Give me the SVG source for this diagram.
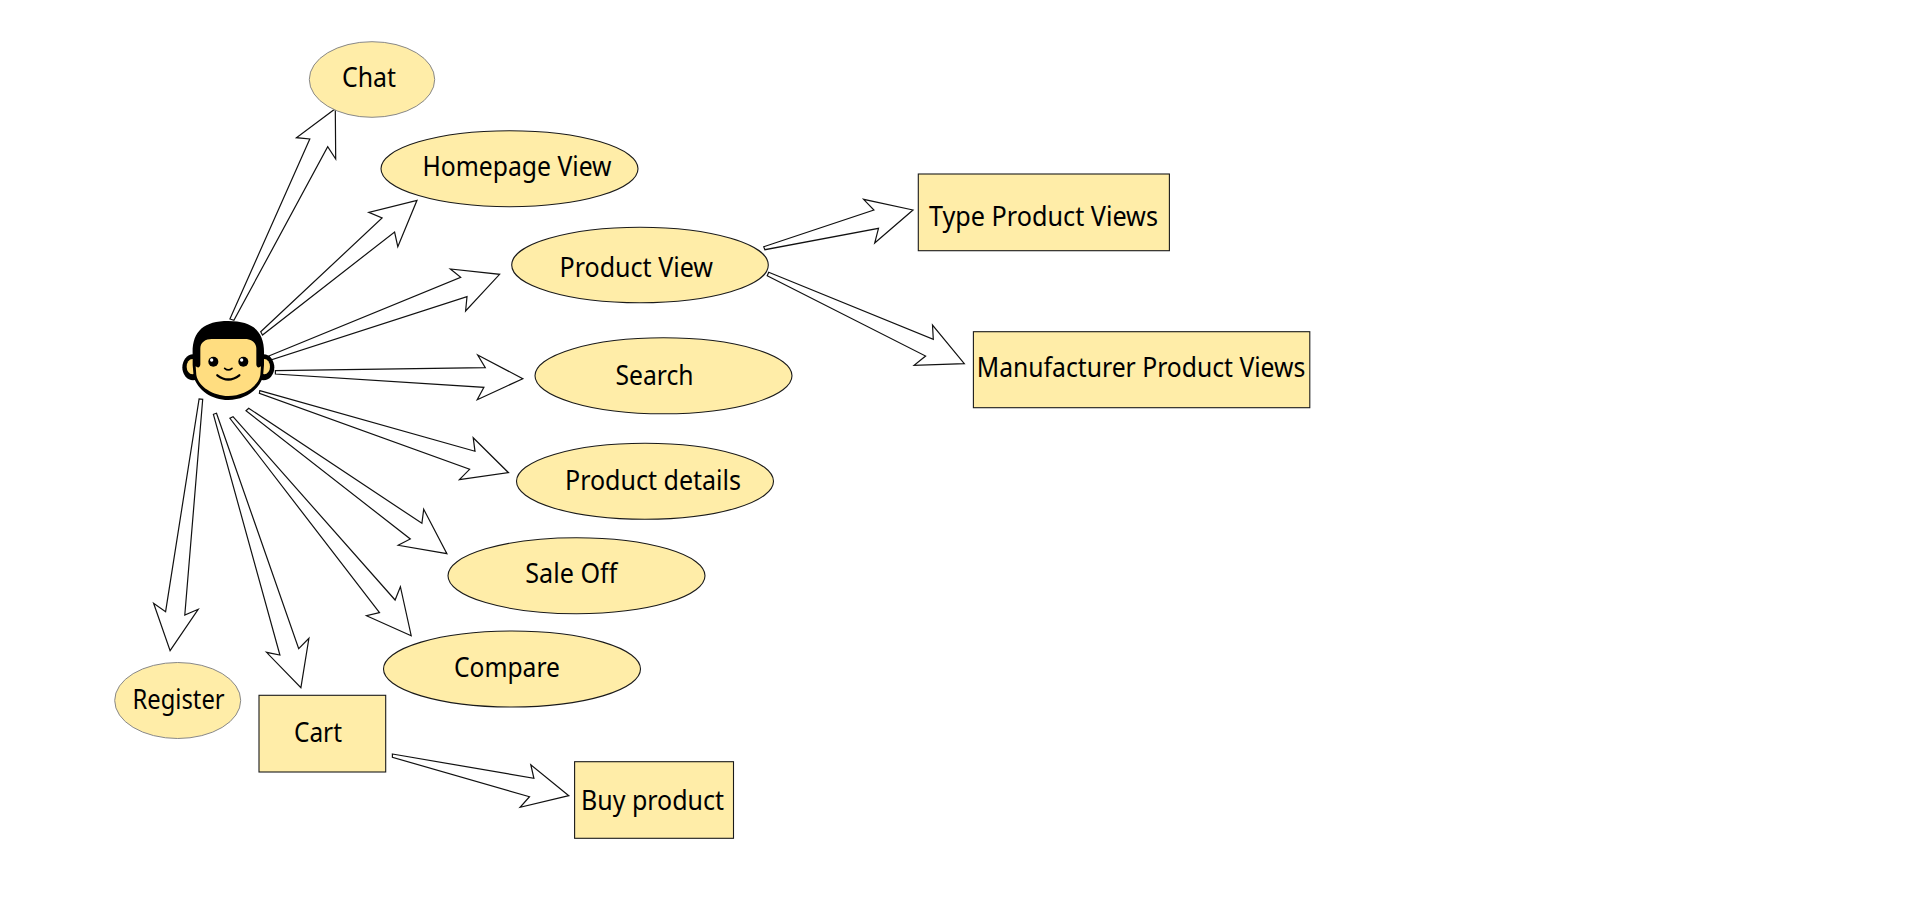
<svg xmlns="http://www.w3.org/2000/svg" width="1920" height="903" viewBox="0 0 1920 903">
<style>
.n{fill:#ffeda8;stroke:#1a1a1a;stroke-width:1.1}
.t{stroke:#888;stroke-width:1}
.a{fill:#fff;stroke:#111;stroke-width:1.2;stroke-linejoin:miter}
.f{fill:#ffdd80}
text{font-family:"Noto Sans","Open Sans","Liberation Sans",sans-serif;font-size:27.5px;fill:#000}
</style>
<rect width="1920" height="903" fill="#fff"/>
<g id="connectors">
<polygon class="a" points="229.9,319 309.8,139 296.4,137.7 335.3,108.7 335.7,159 327.7,146.7 233.9,320.3"/>
<polygon class="a" points="260.7,331.7 382.1,218 368.8,212.3 417,200.3 397.8,246.7 394.6,232 262.5,335"/>
<polygon class="a" points="268.8,356 460.7,277.3 450.4,269 499.6,274.3 465.6,311 467,296.7 271.4,359.7"/>
<polygon class="a" points="275.4,370.7 485.3,367.7 477.7,355 522.8,378.7 477.2,399.7 483.9,387.3 275.4,374"/>
<polygon class="a" points="259.8,390.7 475,451.3 473.2,437.7 508.5,472.7 459.4,479.7 469.6,469.3 259.4,393.3"/>
<polygon class="a" points="248.7,408.3 421.9,523.3 423.7,509.3 446.9,553.7 398.2,545.3 410.3,539 246,410.7"/>
<polygon class="a" points="233,416.7 395.1,600 400.4,586.7 411.2,635.7 366.5,615.7 379.5,612.7 229.9,418.3"/>
<polygon class="a" points="216.5,413.3 298.7,648.7 308.9,638.3 300.9,687.7 266.5,652.3 279.9,655 213.4,414.3"/>
<polygon class="a" points="202.7,399.3 184.8,615 198.2,609.3 170.1,650.7 153.6,603.3 165.6,611.7 199.1,399"/>
<polygon class="a" points="392.4,754 533.9,778.3 530.8,764.7 568.8,795.7 520.1,807.3 529.5,796.7 392.4,757.3"/>
<polygon class="a" points="763.7,246.7 873.9,210 863.6,199.3 913,210 874.7,243 878.5,228.3 764.9,249.7"/>
<polygon class="a" points="768.7,272.3 933.3,339.3 932.5,325 964.3,363.7 914.1,365.3 925.6,356 767.2,275.7"/>
</g>
<g id="actor" transform="translate(175 315) scale(.3333)">
<ellipse cx="54" cy="157" rx="32" ry="39" fill="#000"/>
<ellipse cx="266" cy="157" rx="32" ry="39" fill="#000"/>
<ellipse class="f" cx="52" cy="155" rx="17" ry="23"/>
<ellipse class="f" cx="268" cy="155" rx="17" ry="23"/>
<path d="M53,120C50,50 85,18 160,18C235,18 270,50 267,120L267,150L264,185C252,225 210,255 160,255C110,255 68,225 56,185L53,150Z" fill="#000"/>
<path class="f" d="M76,100C76,82 92,72 110,72L210,72C228,72 244,82 244,100L244,148C244,158 252,160 258,154L256,180C250,215 205,243 160,243C115,243 70,215 64,180L62,154C68,160 76,158 76,148Z"/>
<circle cx="115" cy="140" r="15" fill="#000"/><circle cx="205" cy="140" r="15" fill="#000"/>
<circle cx="110" cy="135" r="5" fill="#fff"/><circle cx="200" cy="135" r="5" fill="#fff"/>
<path d="M149,160Q160,170 171,160" fill="none" stroke="#000" stroke-width="5" stroke-linecap="round"/>
<path d="M127,181Q160,206 193,181" fill="none" stroke="#000" stroke-width="7" stroke-linecap="round"/>
</g>
<g id="chat"><ellipse class="n t" cx="372" cy="79.5" rx="62.7" ry="37.8"/><text x="342" y="86.8" textLength="54" lengthAdjust="spacingAndGlyphs">Chat</text></g>
<g id="homepage"><ellipse class="n" cx="509.5" cy="168.7" rx="128.5" ry="38"/><text x="422.5" y="175.8" textLength="189" lengthAdjust="spacingAndGlyphs">Homepage View</text></g>
<g id="product"><ellipse class="n" cx="640" cy="265" rx="128.3" ry="37.7"/><text x="559.5" y="276.8" textLength="153.5" lengthAdjust="spacingAndGlyphs">Product View</text></g>
<g id="search"><ellipse class="n" cx="663.5" cy="375.8" rx="128.5" ry="38"/><text x="615.5" y="385" textLength="78" lengthAdjust="spacingAndGlyphs">Search</text></g>
<g id="details"><ellipse class="n" cx="645" cy="481.3" rx="128.5" ry="38"/><text x="565" y="489.8" textLength="176" lengthAdjust="spacingAndGlyphs">Product details</text></g>
<g id="saleoff"><ellipse class="n" cx="576.5" cy="575.7" rx="128.5" ry="38"/><text x="525.3" y="583.4" textLength="92" lengthAdjust="spacingAndGlyphs">Sale Off</text></g>
<g id="compare"><ellipse class="n" cx="512" cy="669" rx="128.5" ry="38"/><text x="454" y="677.3" textLength="106" lengthAdjust="spacingAndGlyphs">Compare</text></g>
<g id="register"><ellipse class="n t" cx="177.7" cy="700.5" rx="63" ry="38"/><text x="132.6" y="708.8" textLength="92" lengthAdjust="spacingAndGlyphs">Register</text></g>
<g id="cart"><rect class="n" x="259" y="695.3" width="126.7" height="76.7"/><text x="294" y="742.3" textLength="48" lengthAdjust="spacingAndGlyphs">Cart</text></g>
<g id="buy"><rect class="n" x="574.6" y="761.7" width="158.9" height="76.6"/><text x="581" y="809.8" textLength="143" lengthAdjust="spacingAndGlyphs">Buy product</text></g>
<g id="type"><rect class="n" x="918.3" y="174" width="251.1" height="76.7"/><text x="929" y="225.5" textLength="229" lengthAdjust="spacingAndGlyphs">Type Product Views</text></g>
<g id="manufacturer"><rect class="n" x="973.4" y="331.7" width="336.4" height="76"/><text x="976.8" y="377.1" textLength="328.5" lengthAdjust="spacingAndGlyphs">Manufacturer Product Views</text></g>
</svg>
